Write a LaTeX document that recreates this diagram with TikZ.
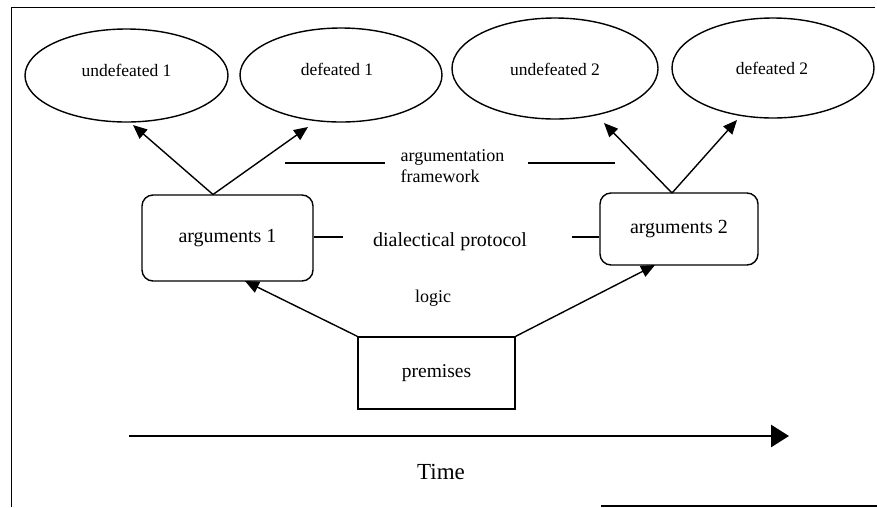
\documentclass[tikz,border=0pt]{standalone}
\usepackage{fontspec}
\setmainfont{Liberation Serif}
\usetikzlibrary{arrows.meta,shapes.geometric,calc}
\begin{document}
\begin{tikzpicture}[x=1pt,y=-1pt,
  line width=1.4pt,
  ell/.style={draw,ellipse,inner sep=0pt},
  etxt/.style={inner sep=0pt,font=\fontsize{17.5}{20}\selectfont},
  rbox/.style={draw,rounded corners=11pt,inner sep=0pt,font=\fontsize{20}{22}\selectfont},
  pbox/.style={draw,inner sep=0pt,font=\fontsize{19.5}{22}\selectfont},
  lbl/.style={inner sep=0pt,font=\fontsize{18}{21}\selectfont},
  arr/.style={-{Triangle[length=14pt,width=12pt]}},
]
\useasboundingbox (0,0) rectangle (877,507);
% frame
\draw (11.5,507) -- (11.5,7.5) -- (875,7.5);
\draw (601,506) -- (877,506);

% ellipses
\node[ell,minimum width=203pt,minimum height=93pt] (u1) at (126.5,75.5) {};
\node[etxt] (u1t) at (126.5,70) {undefeated 1};
\node[ell,minimum width=202pt,minimum height=94pt] (d1) at (341,75) {};
\node[etxt] (d1t) at (337,69) {defeated 1};
\node[ell,minimum width=206pt,minimum height=101pt] (u2) at (555,68.5) {};
\node[etxt] (u2t) at (555,69) {undefeated 2};
\node[ell,minimum width=202pt,minimum height=100pt] (d2) at (773,68) {};
\node[etxt] (d2t) at (772,68) {defeated 2};

% boxes
\node[rbox,minimum width=171pt,minimum height=86pt] (a1) at (227.5,238) {arguments 1};
\node[rbox,minimum width=158pt,minimum height=72pt] (a2) at (679,229) {arguments 2};
\node[pbox,minimum width=157pt,minimum height=72pt] (p) at (436.5,373) {premises};

% tips
\coordinate (o1) at (213,194.5);
\coordinate (o2) at (672,193);
\coordinate (t11) at (133,125);
\coordinate (t12) at (308,127);
\coordinate (t21) at (604,123);
\coordinate (t22) at (737,120);
\coordinate (ta1) at (245,281);
\coordinate (ta2) at (655,265);

\draw[arr] (o1) -- (t11);
\draw[arr] (o1) -- (t12);
\draw[arr] (o2) -- (t21);
\draw[arr] (o2) -- (t22);
\draw[arr] (p.north west) -- (ta1);
\draw[arr] (p.north east) -- (ta2);

% labels
\node[lbl,align=left] (af) at (452.5,166.5) {argumentation\\framework};
\coordinate (af1) at (285,163);
\coordinate (af2) at (385,163);
\coordinate (af3) at (528,163);
\coordinate (af4) at (615,163);
\draw (af1) -- (af2);
\draw (af3) -- (af4);

\node[inner sep=0pt,font=\fontsize{20}{22}\selectfont] (dp) at (450,242) {dialectical protocol};
\coordinate (dp1) at (343,237);
\coordinate (dp2) at (572,237);
\draw (a1.east |- dp1) -- (dp1);
\draw (dp2) -- (a2.west |- dp2);

\node[lbl] (lg) at (433,298) {logic};

% time
\coordinate (ts) at (129,436);
\coordinate (te) at (789,436);
\draw[line width=2.8pt,-{Triangle[length=18pt,width=22pt]}] (ts) -- (te);
\node[inner sep=0pt,font=\fontsize{23}{26}\selectfont] (time) at (441,472) {Time};
\end{tikzpicture}
\end{document}
